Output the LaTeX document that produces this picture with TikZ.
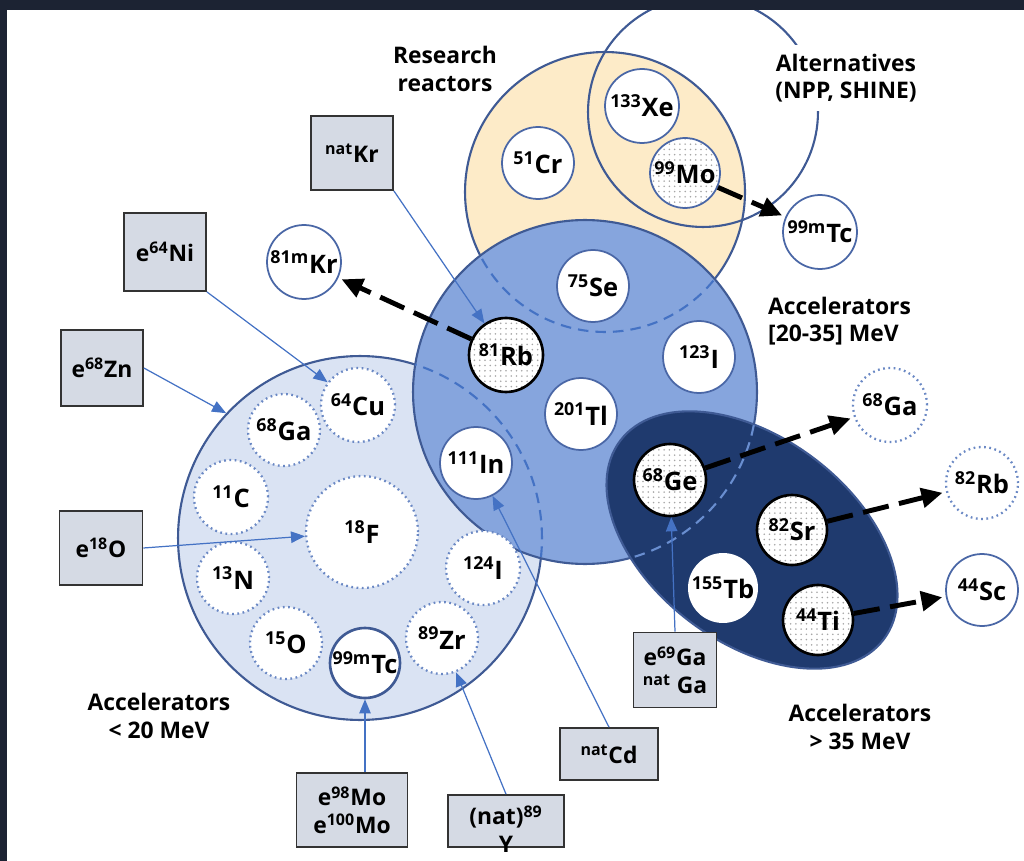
\documentclass[tikz,border=0pt]{standalone}
\usepackage{fontspec}
\setmainfont{Open Sans}
\usetikzlibrary{arrows.meta,shapes.geometric,patterns}
\definecolor{frame}{HTML}{1C2333}
\definecolor{edge}{HTML}{3F5A94}
\definecolor{ring}{HTML}{4A67A6}
\definecolor{dotring}{HTML}{6A88C4}
\definecolor{feedblue}{HTML}{4472C4}
\definecolor{reactor}{HTML}{FDEBC8}
\definecolor{midacc}{HTML}{86A5DD}
\definecolor{lowacc}{HTML}{DAE3F3}
\definecolor{highacc}{HTML}{1F3A6E}
\definecolor{boxfill}{HTML}{D5DAE4}
\definecolor{boxline}{HTML}{333333}
\newcommand{\nuc}[2]{\textsuperscript{#1}#2}

\begin{document}
\begin{tikzpicture}[x=0.02cm, y=-0.02cm,
  every node/.style={font=\bfseries\fontsize{13}{15.6}\selectfont},
  area/.style={circle, draw=edge, line width=1.2pt, inner sep=0pt},
  iso/.style={circle, draw=ring, line width=1pt, fill=white, minimum size=1.44cm, inner sep=0pt, font=\bfseries\fontsize{14.5}{17}\selectfont},
  dotiso/.style={iso, draw=dotring, dotted, line width=1.3pt},
  stip/.style={iso, preaction={fill=white}, pattern=dots, pattern color=gray!70},
  parent/.style={stip, draw=black, line width=1.5pt},
  src/.style={rectangle, draw=boxline, fill=boxfill, line width=1pt, minimum width=1.64cm, minimum height=1.52cm, align=center, inner sep=2pt},
  feed/.style={draw=feedblue, line width=0.7pt, -{Triangle[length=8pt,width=6.5pt]}},
  decay/.style={line width=2.8pt, dash pattern=on 15pt off 6pt, shorten >=2pt, -{Triangle[length=12pt,width=11pt]}},
  hidden/.style={draw=feedblue, line width=1.2pt, dash pattern=on 6pt off 4pt},
  title/.style={align=center}]
\useasboundingbox (0,0) rectangle (1024,861);
%%%%%%%%%%%%%%%%%%%%%%%%%%%%%%% production areas
\node[area, fill=lowacc, minimum size=7.28cm] (low) at (360,538) {};
\node[area, fill=reactor, minimum size=5.6cm] (yel) at (605,192) {};
\node[area, minimum size=4.6cm] (altc) at (703,112) {};
\node[area, fill=midacc, minimum size=6.88cm] (mid) at (585,392) {};
\begin{scope}
\clip (mid) circle [radius=3.44cm];
\draw[hidden] (yel) circle [radius=2.8cm];
\draw[hidden] (low) circle [radius=3.64cm];
\end{scope}
\node[ellipse, fill=highacc, draw=edge, line width=1.2pt, minimum width=6.6cm, minimum height=4.1cm, rotate=-37] (high) at (752,540) {};
\begin{scope}
\clip[rotate around={-37:(high)}] (high) ellipse [x radius=3.3cm, y radius=2.05cm];
\draw[hidden, draw=feedblue!80!white] (mid) circle [radius=3.44cm];
\end{scope}
%%%%%%%%%%%%%%%%%%%%%%%%%%%%%%% labels
\node[title] (research) at (445,69) {Research\\reactors};
\node[title, fill=white, inner sep=5pt] (alttext) at (846,78) {Alternatives\\(NPP, SHINE)};
\node[align=left, anchor=west] (midtext) at (762,321) {Accelerators\\{[20-35]} MeV};
\node[title] (lowtext) at (159,716) {Accelerators\\< 20 MeV};
\node[title] (hightext) at (860,727) {Accelerators\\> 35 MeV};
%%%%%%%%%%%%%%%%%%%%%%%%%%%%%%% research reactors
\node[iso] (cr51) at (538,163) {\nuc{51}{Cr}};
\node[iso, minimum size=1.48cm] (xe133) at (642,106) {\nuc{133}{Xe}};
\node[stip, minimum size=1.4cm] (mo99) at (685,173) {\nuc{99}{Mo}};
\node[iso, minimum size=1.48cm] (tc99) at (820,232) {\nuc{99m}{Tc}};
%%%%%%%%%%%%%%%%%%%%%%%%%%%%%%% accelerators 20-35 MeV
\node[iso] (se75) at (593,286) {\nuc{75}{Se}};
\node[parent, minimum size=1.48cm] (rb81) at (506,355) {\nuc{81}{Rb}};
\node[iso] (i123) at (699,357) {\nuc{123}{I}};
\node[iso] (tl201) at (581,414) {\nuc{201}{Tl}};
\node[iso] (in111) at (476,463) {\nuc{111}{In}};
\node[iso, minimum size=1.48cm] (kr81) at (304,262) {\nuc{81m}{Kr}};
%%%%%%%%%%%%%%%%%%%%%%%%%%%%%%% accelerators > 35 MeV
\node[parent] (ge68) at (670,480) {\nuc{68}{Ge}};
\node[parent, minimum size=1.4cm] (sr82) at (792,530) {\nuc{82}{Sr}};
\node[iso, draw=none, minimum size=1.4cm] (tb155) at (723,588) {\nuc{155}{Tb}};
\node[parent, minimum size=1.4cm] (ti44) at (818,620) {\nuc{44}{Ti}};
\node[dotiso, minimum size=1.48cm] (ga68b) at (890,405) {\nuc{68}{Ga}};
\node[dotiso] (rb82) at (982,483) {\nuc{82}{Rb}};
\node[iso] (sc44) at (982,590) {\nuc{44}{Sc}};
%%%%%%%%%%%%%%%%%%%%%%%%%%%%%%% accelerators < 20 MeV
\node[dotiso, minimum size=1.48cm] (cu64) at (358,405) {\nuc{64}{Cu}};
\node[dotiso] (ga68) at (284,430) {\nuc{68}{Ga}};
\node[dotiso, minimum size=1.48cm] (c11) at (231,497) {\nuc{11}{C}};
\node[dotiso, minimum size=2.24cm] (f18) at (362,532) {\nuc{18}{F}};
\node[dotiso] (n13) at (233,578) {\nuc{13}{N}};
\node[dotiso] (o15) at (286,643) {\nuc{15}{O}};
\node[iso, draw=edge, line width=1.5pt, minimum size=1.4cm] (tc99b) at (365,663) {\nuc{99m}{Tc}};
\node[dotiso] (zr89) at (442,638) {\nuc{89}{Zr}};
\node[dotiso, minimum size=1.48cm] (i124) at (483,568) {\nuc{124}{I}};
%%%%%%%%%%%%%%%%%%%%%%%%%%%%%%% targets
\node[src, minimum height=1.48cm] (kr) at (352,153) {\nuc{nat}{Kr}};
\node[src, minimum height=1.56cm] (ni) at (165,252) {e\nuc{64}{Ni}};
\node[src] (zn) at (102,368) {e\nuc{68}{Zn}};
\node[src, minimum width=1.66cm, minimum height=1.48cm] (oxy) at (101,548) {e\nuc{18}{O}};
\node[src, minimum width=2.22cm, minimum height=1.48cm] (mo) at (352,810) {e\nuc{98}{Mo}\\e\nuc{100}{Mo}};
\node[src, minimum width=2.32cm, minimum height=1.04cm] (yt) at (506,821) {};
\node[title] (yttext) at (506,829) {(nat)\textsuperscript{89}\\Y};
\node[src, minimum width=1.96cm, minimum height=1.04cm] (cd) at (609,754) {\nuc{nat}{Cd}};
\node[src, minimum width=1.66cm, minimum height=1.5cm] (gasrc) at (675,670) {e\nuc{69}{Ga}\\\nuc{nat}{ Ga}};
%%%%%%%%%%%%%%%%%%%%%%%%%%%%%%% target feeds
\draw[feed] (kr.south east) -- (rb81);
\draw[feed] (ni.south east) -- (cu64);
\draw[feed] (zn.east) -- (low.137);
\draw[feed] (oxy.east) -- (f18);
\draw[feed] (tc99b |- mo.north) -- (tc99b);
\draw[feed] (yt.north) -- (zr89);
\draw[feed] (cd.north) -- (in111);
\draw[feed] (gasrc.north) -- (ge68);
%%%%%%%%%%%%%%%%%%%%%%%%%%%%%%% generators
\draw[decay] (rb81) -- (kr81);
\draw[decay] (mo99) -- (tc99);
\draw[decay] (ge68) -- (ga68b);
\draw[decay] (sr82) -- (rb82);
\draw[decay] (ti44) -- (sc44);
%%%%%%%%%%%%%%%%%%%%%%%%%%%%%%% frame
\fill[frame] (0,0) rectangle (1024,10);
\fill[frame] (0,0) rectangle (7,861);
\end{tikzpicture}
\end{document}
